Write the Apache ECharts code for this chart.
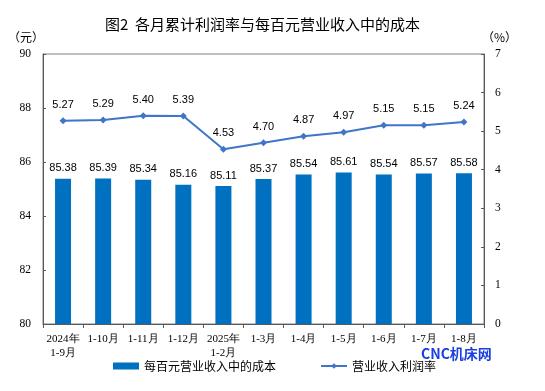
<!DOCTYPE html>
<html><head><meta charset="utf-8">
<script src="https://cdn.jsdelivr.net/npm/echarts@6/dist/echarts.min.js"></script>
<style>html,body{margin:0;padding:0;background:#fff}#c{width:545px;height:391px}</style>
</head><body><div id="c"></div>
<script>
const categories = ['2024年\n1-9月','1-10月','1-11月','1-12月','2025年\n1-2月','1-3月','1-4月','1-5月','1-6月','1-7月','1-8月'];
const costValues = [85.38,85.39,85.34,85.16,85.11,85.37,85.54,85.61,85.54,85.57,85.58];
const marginValues = [5.27,5.29,5.40,5.39,4.53,4.70,4.87,4.97,5.15,5.15,5.24];
const leftTicks = [80,90,2];
const rightTicks = [0,7,1];

const chart = echarts.init(document.getElementById('c'));
const serif = '"Liberation Serif","Times New Roman",serif';
const cjk = '"Noto Sans CJK SC",sans-serif';
chart.setOption({
  animation:false,
  title:{text:'图2  各月累计利润率与每百元营业收入中的成本',left:100,top:12,
    textStyle:{fontSize:15,fontWeight:'normal',color:'#000',fontFamily:cjk}},
  grid:{left:43,right:61,top:54,bottom:67,show:true,borderColor:'#7f7f7f',borderWidth:1},
  legend:{bottom:14,itemGap:44,left:108,
    textStyle:{fontSize:12,color:'#000',fontFamily:cjk},
    data:[{name:'每百元营业收入中的成本',icon:'rect'},{name:'营业收入利润率'}],
    itemWidth:26,itemHeight:7},
  graphic:[
    {type:'text',left:8,top:31,style:{text:'（元）',fontSize:12,fill:'#000',fontFamily:cjk}},
    {type:'text',left:482,top:31,style:{text:'（%）',fontSize:12,fill:'#000',fontFamily:cjk}},
    {type:'text',left:421,top:347,style:{text:'CNC机床网',fontSize:14,fontWeight:'bold',fill:'#1a3fe0',fontFamily:cjk}}
  ],
  xAxis:{type:'category',data:categories,
    axisLine:{lineStyle:{color:'#595959'}},
    axisTick:{show:true,length:4,lineStyle:{color:'#595959'}},
    axisLabel:{interval:0,fontSize:11,color:'#000',fontFamily:serif,margin:8,lineHeight:14}},
  yAxis:[
    {type:'value',min:leftTicks[0],max:leftTicks[1],interval:leftTicks[2],
     axisLine:{show:true,lineStyle:{color:'#595959'}},
     axisTick:{show:true,inside:true,length:3,lineStyle:{color:'#595959'}},
     splitLine:{show:false},
     axisLabel:{fontSize:11.5,color:'#000',fontFamily:serif,margin:12}},
    {type:'value',min:rightTicks[0],max:rightTicks[1],interval:rightTicks[2],position:'right',
     axisLine:{show:true,lineStyle:{color:'#595959'}},
     axisTick:{show:true,inside:true,length:3,lineStyle:{color:'#595959'}},
     splitLine:{show:false},
     axisLabel:{fontSize:11.5,color:'#000',fontFamily:serif,margin:11}}
  ],
  series:[
    {name:'每百元营业收入中的成本',type:'bar',data:costValues,barWidth:16,
     itemStyle:{color:'#0070C0'},
     label:{show:true,position:'top',fontSize:11,color:'#000',fontFamily:'"Liberation Sans",Arial,sans-serif',formatter:p=>p.value.toFixed(2)}},
    {name:'营业收入利润率',type:'line',yAxisIndex:1,data:marginValues,
     symbol:'diamond',symbolSize:7,
     lineStyle:{color:'#3f76c7',width:2},itemStyle:{color:'#3f76c7'},
     label:{show:true,position:'top',distance:7,fontSize:11,color:'#000',fontFamily:'"Liberation Sans",Arial,sans-serif',formatter:p=>p.value.toFixed(2)}}
  ]
});
</script></body></html>
